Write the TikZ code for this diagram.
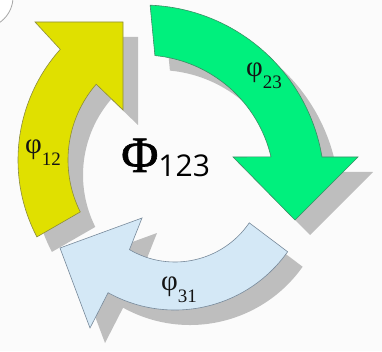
\documentclass[tikz,border=0pt]{standalone}
\usepackage{fontspec}
\setmainfont{Liberation Serif}
\newfontfamily\digitfont{Open Sans}
\newfontfamily\heavyserif[FakeBold=1.2]{Liberation Serif}
\definecolor{pagebg}{RGB}{251,251,251}
\definecolor{shadowgray}{RGB}{190,190,190}
\definecolor{yellowfill}{RGB}{224,224,0}
\definecolor{yellowline}{RGB}{140,140,60}
\definecolor{greenfill}{RGB}{0,240,125}
\definecolor{greenline}{RGB}{60,140,100}
\definecolor{bluefill}{RGB}{212,232,246}
\definecolor{blueline}{RGB}{120,138,155}
\definecolor{textdark}{RGB}{20,20,20}

% #1 centre, #2 outer radius, #3 inner radius,
% #4 outer tail angle, #5 inner tail angle, #6 outer head angle, #7 inner head angle,
% #8 head outline (outer barb -- tip -- inner barb), #9 path style
\newcommand{\cyclearrow}[9]{%
  \path[#9] ([shift={(#4:#2)}]#1) arc[start angle=#4, end angle=#6, radius=#2]
    -- #8
    -- ([shift={(#7:#3)}]#1) arc[start angle=#7, end angle=#5, radius=#3] -- cycle;}

% subscript of a phase label
\newcommand{\phsub}[1]{\raisebox{-12pt}{\fontsize{19}{19}\selectfont #1}}

\tikzset{
  shadowshape/.style={fill=shadowgray, draw=none},
  arrowshape/.style={line width=0.6pt, line join=miter},
  phlabel/.style={anchor=base west, inner sep=0pt, text=textdark,
                  font=\fontsize{29}{29}\selectfont},
}

\begin{document}
\begin{tikzpicture}[x=1pt,y=1pt]
  \fill[pagebg] (0,0) rectangle (382,351);
  \useasboundingbox (0,0) rectangle (382,351);

  % rounded button edge in the corner
  \filldraw[fill=white, draw=gray!70, line width=0.8pt] (-18,354) circle[radius=31];

  % drop shadows
  \begin{scope}[shift={(15,-15)}]
    \cyclearrow{184,191}{166}{116}{207.6}{206.6}{138.2}{139.2}
      {(35,329) -- (123,329) -- (123,241)}{shadowshape}
    \cyclearrow{142.5,164}{182}{132}{87.6}{84.6}{9.5}{13.2}
      {(358,194) -- (295,131) -- (233,194)}{shadowshape}
    \cyclearrow{175,179}{138}{90}{-35.3}{-34.4}{-119}{-120.4}
      {(90,23) -- (60,103) -- (142,133)}{shadowshape}
  \end{scope}

  % the three arrows of the cycle
  \cyclearrow{184,191}{166}{116}{207.6}{206.6}{138.2}{139.2}
    {(35,329) -- (123,329) -- (123,241)}{arrowshape, fill=yellowfill, draw=yellowline}
  \cyclearrow{142.5,164}{182}{132}{87.6}{84.6}{9.5}{13.2}
    {(358,194) -- (295,131) -- (233,194)}{arrowshape, fill=greenfill, draw=greenline}
  \cyclearrow{175,179}{138}{90}{-35.3}{-34.4}{-119}{-120.4}
    {(90,23) -- (60,103) -- (142,133)}{arrowshape, fill=bluefill, draw=blueline}

  % labels
  \node[phlabel] (p12) at (25,197) {φ\phsub{12}};
  \node[phlabel] (p23) at (246,274) {φ\phsub{23}};
  \node[phlabel] (p31) at (161,61) {φ\phsub{31}};
  \node[anchor=base west, inner sep=0pt, text=black] (total) at (121,179)
    {\heavyserif\fontsize{51}{51}\selectfont Φ\raisebox{-5pt}{\digitfont\fontsize{30}{30}\selectfont 123}};
\end{tikzpicture}
\end{document}
